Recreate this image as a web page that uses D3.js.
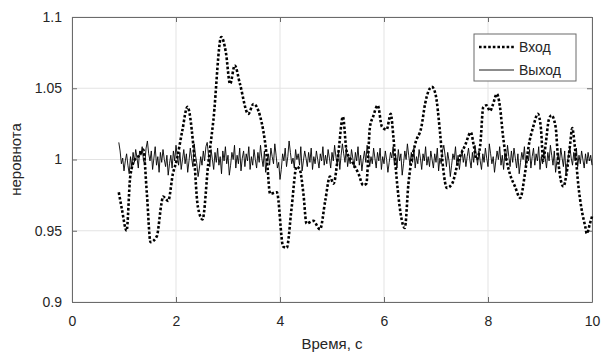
<!DOCTYPE html>
<html>
<head>
<meta charset="utf-8">
<script src="https://cdn.jsdelivr.net/npm/d3@7"></script>
<style>
  body { margin: 0; background: #fff; }
  text { font-family: "Liberation Sans", Arial, sans-serif; fill: #262626; }
</style>
</head>
<body>
<div id="chart"></div>
<script>
// input signal (dotted) as [time, value]
const inputTime = [0.90, 0.96, 1.05, 1.12, 1.21, 1.30, 1.37, 1.44, 1.51, 1.63, 1.72, 1.75, 1.85, 1.94, 2.01, 2.12, 2.22,
  2.33, 2.42, 2.51, 2.62, 2.72, 2.87, 2.96, 3.04, 3.13, 3.23, 3.39, 3.49, 3.62, 3.74, 3.81, 3.94, 4.06, 4.13,
  4.22, 4.32, 4.38, 4.45, 4.51, 4.64, 4.77, 4.87, 4.96, 5.03, 5.12, 5.21, 5.28, 5.38, 5.51, 5.60, 5.66, 5.73,
  5.79, 5.88, 5.96, 6.05, 6.13, 6.18, 6.24, 6.40, 6.47, 6.60, 6.72, 6.79, 6.92, 6.99, 7.08, 7.14, 7.21, 7.31,
  7.43, 7.56, 7.67, 7.73, 7.78, 7.85, 7.91, 7.97, 8.04, 8.09, 8.17, 8.23, 8.29, 8.36, 8.42, 8.52, 8.62, 8.71,
  8.78, 8.87, 8.96, 9.02, 9.06, 9.11, 9.17, 9.22, 9.30, 9.35, 9.45, 9.51, 9.58, 9.62, 9.67, 9.74, 9.80, 9.87,
  9.90, 9.96, 10.0];
const inputValue = [0.977, 0.965, 0.950, 0.988, 1.000, 1.003, 1.007, 0.976, 0.942, 0.946, 0.969, 0.974, 0.971, 0.990, 0.999, 1.020, 1.037,
  1.011, 0.967, 0.958, 0.997, 1.028, 1.086, 1.075, 1.053, 1.066, 1.053, 1.032, 1.039, 1.030, 1.004, 0.976, 0.977, 0.939, 0.938,
  0.965, 0.995, 0.993, 0.976, 0.955, 0.957, 0.951, 0.971, 0.988, 0.983, 1.004, 1.030, 1.006, 0.999, 0.990, 0.982, 0.983, 1.023,
  1.030, 1.038, 1.023, 1.021, 1.032, 1.016, 0.988, 0.952, 0.983, 1.011, 1.023, 1.039, 1.051, 1.046, 1.018, 0.993, 0.980, 0.983,
  0.999, 1.010, 1.019, 1.009, 1.000, 1.010, 1.037, 1.038, 1.034, 1.038, 1.046, 1.037, 1.016, 0.999, 0.990, 0.981, 0.973, 0.990,
  1.009, 1.023, 1.032, 1.021, 0.999, 1.011, 1.028, 1.031, 1.023, 0.999, 0.981, 0.990, 1.011, 1.022, 1.009, 0.981, 0.965, 0.953,
  0.948, 0.955, 0.960];

// output signal (solid), every 0.025 s from 0.900 to 10.000
const outputStart = 0.90, outputStep = 0.025;
const outputValue = [
  1.012, 1.006, 0.997, 1.001, 0.992, 0.999, 1.004, 0.996, 0.990, 1.002, 0.995, 1.005, 0.998, 1.007, 1.001, 0.994, 1.006, 1.003, 1.009, 0.999,
  0.997, 1.008, 1.013, 1.004, 0.999, 1.006, 0.993, 1.001, 1.009, 0.996, 1.002, 0.991, 1.005, 0.998, 1.007, 1.000, 0.995, 1.003, 0.989, 0.997,
  1.003, 0.994, 1.006, 0.999, 1.010, 1.002, 0.996, 1.005, 0.993, 1.000, 1.007, 0.997, 1.004, 0.991, 0.999, 1.008, 1.001, 0.995, 1.011, 1.003,
  0.997, 0.988, 0.994, 1.002, 0.996, 1.006, 0.999, 1.009, 1.012, 1.003, 0.995, 1.007, 1.000, 0.993, 1.005, 0.998, 1.008, 0.996, 1.002, 0.990,
  1.006, 0.999, 1.009, 0.997, 1.003, 0.989, 0.996, 1.005, 1.000, 1.010, 0.994, 1.003, 0.997, 1.008, 0.992, 1.001, 1.006, 0.995, 1.004, 0.999,
  1.009, 0.993, 1.002, 0.996, 1.007, 1.000, 0.994, 1.005, 0.998, 1.010, 1.001, 0.995, 1.006, 0.991, 0.999, 1.004, 0.996, 1.008, 1.002, 0.997,
  1.011, 1.003, 0.994, 0.998, 0.986, 0.993, 1.004, 0.999, 1.008, 0.995, 1.002, 1.013, 1.005, 0.997, 1.001, 0.994, 1.007, 1.000, 1.004, 0.996,
  1.009, 0.992, 0.999, 1.006, 1.001, 0.995, 1.005, 0.998, 1.008, 0.993, 1.002, 0.997, 1.006, 1.000, 0.994, 1.004, 0.999, 1.009, 0.996, 1.003,
  0.997, 1.007, 1.001, 0.994, 1.005, 0.999, 1.010, 1.002, 0.996, 1.006, 0.993, 1.003, 1.011, 1.004, 0.998, 1.008, 0.995, 1.002, 0.997, 1.007,
  1.001, 0.994, 1.005, 0.999, 1.009, 0.996, 1.003, 0.992, 1.000, 1.006, 0.998, 1.010, 1.004, 0.995, 1.002, 0.997, 1.008, 1.001, 0.994, 1.005,
  0.999, 1.008, 0.993, 1.002, 0.997, 1.006, 1.000, 0.991, 0.998, 1.005, 1.001, 1.009, 0.996, 1.003, 0.994, 1.007, 0.999, 1.004, 0.989, 0.997,
  1.006, 1.000, 1.011, 1.003, 0.996, 1.005, 0.998, 1.008, 0.994, 1.002, 0.997, 1.007, 1.001, 0.993, 1.004, 0.999, 1.009, 0.996, 1.002, 0.995,
  1.006, 1.000, 0.994, 1.004, 0.998, 1.008, 0.992, 1.001, 0.997, 1.006, 1.010, 1.003, 0.995, 1.005, 0.999, 0.988, 0.996, 1.004, 1.000, 1.009,
  0.996, 1.003, 0.993, 1.001, 1.007, 0.998, 1.004, 0.995, 1.002, 1.008, 1.000, 0.994, 1.005, 0.998, 1.010, 1.003, 0.996, 1.006, 0.999, 0.993,
  1.004, 0.998, 1.008, 1.001, 0.995, 1.011, 1.004, 0.997, 1.002, 0.991, 0.999, 1.006, 1.000, 1.009, 0.996, 1.003, 0.993, 1.005, 0.999, 1.010,
  1.002, 0.995, 1.006, 0.998, 1.008, 1.001, 0.994, 1.004, 0.990, 0.998, 1.005, 1.000, 1.009, 0.996, 1.003, 0.999, 1.007, 0.994, 1.002, 1.008,
  0.996, 1.004, 0.999, 1.009, 0.993, 1.002, 0.997, 1.007, 1.001, 0.994, 1.005, 0.999, 1.010, 1.003, 0.996, 1.006, 0.991, 0.999, 1.004, 0.998,
  1.008, 1.001, 0.995, 1.006, 0.990, 0.998, 1.003, 1.009, 1.001, 0.996, 1.005, 0.999, 1.008, 0.995, 1.003, 0.997, 1.006, 1.000, 0.994, 1.004,
  0.997, 1.005, 0.999, 1.003, 0.996];

const xTicks = [0, 2, 4, 6, 8, 10];
const yTicks = [0.9, 0.95, 1, 1.05, 1.1];
const legendLabels = ['Вход', 'Выход'];

const W = 603, H = 356;
const margin = {top: 17, right: 11, bottom: 54, left: 72};
const width = W - margin.left - margin.right, height = H - margin.top - margin.bottom;

const svg = d3.select('#chart').append('svg')
    .attr('width', W).attr('height', H);
const g = svg.append('g').attr('transform', `translate(${margin.left},${margin.top})`);

const xScale = d3.scaleLinear().domain([0, 10]).range([0, width]);
const yScale = d3.scaleLinear().domain([0.9, 1.1]).range([height, 0]);

// grid
g.append('g').selectAll('line').data(xTicks).enter().append('line')
    .attr('x1', d => xScale(d)).attr('x2', d => xScale(d))
    .attr('y1', 0).attr('y2', height)
    .attr('stroke', '#e3e3e3').attr('stroke-width', 1);
g.append('g').selectAll('line').data(yTicks).enter().append('line')
    .attr('y1', d => yScale(d)).attr('y2', d => yScale(d))
    .attr('x1', 0).attr('x2', width)
    .attr('stroke', '#e3e3e3').attr('stroke-width', 1);

const fmtY = d => d3.format('')(+d.toFixed(2));

// axes, ticks pointing inward, box on all sides
const axisStyle = sel => {
    sel.select('.domain').attr('stroke', '#6b6b6b');
    sel.selectAll('.tick line').attr('stroke', '#6b6b6b');
    sel.selectAll('.tick text').style('font-size', '14px').attr('fill', '#262626');
};
g.append('g').attr('transform', `translate(0,${height})`)
    .call(d3.axisBottom(xScale).tickValues(xTicks).tickSizeInner(-5).tickSizeOuter(0).tickPadding(14))
    .call(axisStyle);
g.append('g')
    .call(d3.axisLeft(yScale).tickValues(yTicks).tickFormat(fmtY).tickSizeInner(-5).tickSizeOuter(0).tickPadding(10))
    .call(axisStyle);
g.append('g')
    .call(d3.axisTop(xScale).tickValues(xTicks).tickFormat('').tickSizeInner(-5).tickSizeOuter(0))
    .call(axisStyle);
g.append('g').attr('transform', `translate(${width},0)`)
    .call(d3.axisRight(yScale).tickValues(yTicks).tickFormat('').tickSizeInner(-5).tickSizeOuter(0))
    .call(axisStyle);

// output line (thin solid)
const outputData = outputValue.map((v, i) => [outputStart + i * outputStep, v]);
g.append('path').datum(outputData)
    .attr('fill', 'none').attr('stroke', '#000').attr('stroke-width', 0.9)
    .attr('d', d3.line().x(d => xScale(d[0])).y(d => yScale(d[1])));

// input line (thick dotted)
const inputData = inputTime.map((t, i) => [t, inputValue[i]]);
g.append('path').datum(inputData)
    .attr('fill', 'none').attr('stroke', '#000').attr('stroke-width', 2.6)
    .attr('stroke-dasharray', '2.6,2')
    .attr('d', d3.line().curve(d3.curveMonotoneX).x(d => xScale(d[0])).y(d => yScale(d[1])));

// axis labels
svg.append('text').attr('x', margin.left + width / 2).attr('y', H - 7)
    .attr('text-anchor', 'middle').style('font-size', '15px').text('Время, с');
svg.append('text').attr('transform', `translate(21,${margin.top + height / 2}) rotate(-90)`)
    .attr('text-anchor', 'middle').style('font-size', '15px').text('неровнота');

// legend
const lg = svg.append('g').attr('transform', 'translate(474,34)');
lg.append('rect').attr('width', 102).attr('height', 47)
    .attr('fill', '#fff').attr('stroke', '#6b6b6b').attr('stroke-width', 1);
legendLabels.forEach((name, i) => {
    const y = 13 + i * 23;
    lg.append('line').attr('x1', 5).attr('x2', 40).attr('y1', y).attr('y2', y)
        .attr('stroke', '#000')
        .attr('stroke-width', i === 0 ? 2.6 : 0.9)
        .attr('stroke-dasharray', i === 0 ? '2.6,2' : null);
    lg.append('text').attr('x', 45).attr('y', y + 5).style('font-size', '14px').text(name);
});
</script>
</body>
</html>
